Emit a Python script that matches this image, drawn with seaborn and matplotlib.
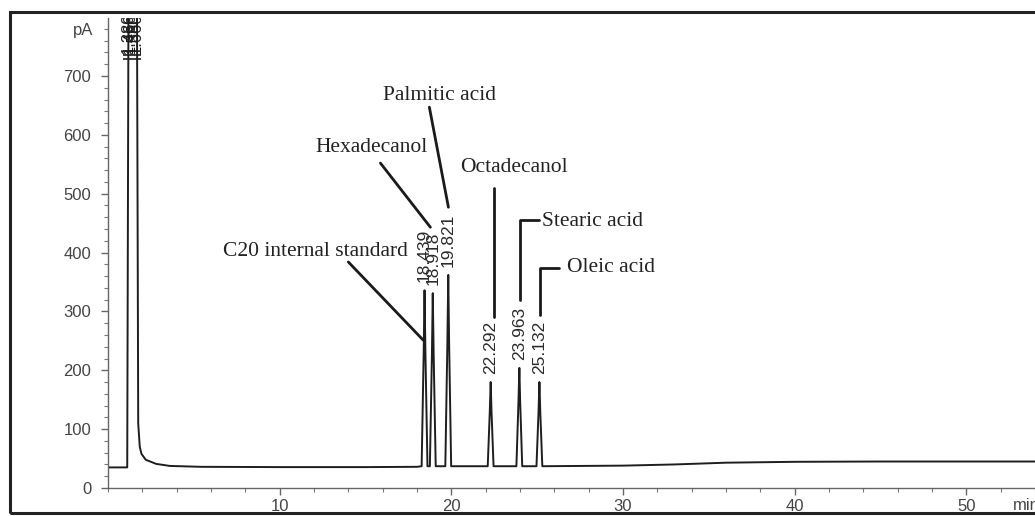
import matplotlib
matplotlib.use("Agg")
import matplotlib.pyplot as plt
import seaborn as sns
import pandas as pd
from matplotlib.patches import Rectangle
from matplotlib.ticker import MultipleLocator

# ---- data ----
trace_time = [0.00, 1.12, 1.20, 1.68, 1.76, 1.85, 1.95, 2.20, 2.80, 3.60, 5.40, 10.0, 15.0, 18.0,
              18.27, 18.39, 18.439, 18.49, 18.61,
              18.75, 18.87, 18.918, 18.97, 19.09,
              19.65, 19.77, 19.821, 19.87, 19.99,
              22.12, 22.24, 22.292, 22.34, 22.46,
              23.79, 23.91, 23.963, 24.01, 24.13,
              24.96, 25.08, 25.132, 25.18, 25.30,
              30.0, 33.0, 36.0, 40.0, 45.0, 54.0]
trace_signal = [35, 35, 900, 900, 110, 70, 58, 48, 41, 37.5, 36, 35.5, 35.5, 36,
                37, 231, 336, 231, 37,
                37, 228, 331, 228, 37,
                37, 248, 362, 248, 37,
                37, 130, 180, 130, 37,
                37, 146, 204, 146, 37,
                37, 130, 180, 130, 37,
                38, 40, 43, 44.5, 45, 45]

peak_rt = [18.439, 18.918, 19.821, 22.292, 23.963, 25.132]
peak_height = [336, 331, 362, 180, 204, 180]
peak_labels = ["18.439", "18.918", "19.821", "22.292", "23.963", "25.132"]

solvent_rt = [1.18, 1.30, 1.45, 1.62]
solvent_labels = ["1.380", "1.466", "1.580", "1.660"]

compound_names = ["C20 internal standard", "Hexadecanol", "Palmitic acid",
                  "Octadecanol", "Stearic acid", "Oleic acid"]

y_ticks = [0, 100, 200, 300, 400, 500, 600, 700]
x_ticks = [10, 20, 30, 40, 50]

df = pd.DataFrame({"time": trace_time, "signal": trace_signal})

# ---- figure ----
sns.set_style("white")
plt.rcParams["font.family"] = ["Liberation Sans", "DejaVu Sans"]

fig = plt.figure(figsize=(10.35, 5.16), dpi=100)
ax = fig.add_axes([108 / 1035, 28 / 516, 927 / 1035, 470 / 516])

sns.lineplot(data=df, x="time", y="signal", ax=ax, color="#1e1e1e", linewidth=1.4)

ax.set_xlim(0, 54.0)
ax.set_ylim(0, 798.5)
ax.set_xlabel("")
ax.set_ylabel("")

ax.set_yticks(y_ticks)
ax.set_xticks(x_ticks)
ax.yaxis.set_minor_locator(MultipleLocator(20))
ax.xaxis.set_minor_locator(MultipleLocator(2))
ax.tick_params(axis="both", which="major", direction="out", length=5, width=1,
               color="#666666", labelcolor="#444444", labelsize=12)
ax.tick_params(axis="y", which="major", pad=7, left=True)
ax.tick_params(axis="x", which="major", pad=3, bottom=True)
ax.tick_params(axis="both", which="minor", direction="out", length=3, width=0.8,
               color="#777777", left=True, bottom=True)

for s in ["top", "right"]:
    ax.spines[s].set_visible(False)
for s in ["left", "bottom"]:
    ax.spines[s].set_color("#666666")
    ax.spines[s].set_linewidth(1.0)

# units
ax.text(-0.016, 777, "pA", transform=ax.get_yaxis_transform(), ha="right", va="center",
        fontsize=12, color="#444444")
fig.text(1013 / 1035, 1 - 505 / 516, "min", ha="left", va="center", fontsize=12, color="#444444")

# peak retention time labels
for rt, h, lab in zip(peak_rt, peak_height, peak_labels):
    ax.text(rt, h + 14, lab, rotation=90, ha="center", va="bottom", fontsize=12.5,
            color="#2a2a2a")

# solvent peak labels (overlapping, cut at top)
for rt, lab in zip(solvent_rt, solvent_labels):
    ax.text(rt, 738, lab, rotation=90, ha="center", va="bottom", fontsize=12,
            color="#1e1e1e", clip_on=True)
ax.hlines([728, 736], 0.9, 1.95, color="#1e1e1e", linewidth=1.2)

# compound annotations
serif = ["Liberation Serif", "DejaVu Serif"]
ann_kw = dict(fontsize=15.5, color="#222222", family=serif)
line_kw = dict(color="#1a1a1a", linewidth=2.0)

ax.text(12.09, 401, compound_names[0], ha="center", va="center", **ann_kw)
ax.plot([14.0, 18.37], [384, 251], **line_kw)

ax.text(15.35, 578, compound_names[1], ha="center", va="center", **ann_kw)
ax.plot([15.87, 18.78], [552, 443], **line_kw)

ax.text(19.31, 666, compound_names[2], ha="center", va="center", **ann_kw)
ax.plot([18.72, 19.83], [647, 477], **line_kw)

ax.text(23.67, 545, compound_names[3], ha="center", va="center", **ann_kw)
ax.plot([22.51, 22.51], [510, 290], **line_kw)

ax.text(25.31, 452, compound_names[4], ha="left", va="center", **ann_kw)
ax.plot([25.1, 24.02, 24.02], [455, 455, 319], **line_kw)

ax.text(26.76, 375, compound_names[5], ha="left", va="center", **ann_kw)
ax.plot([26.3, 25.19, 25.19], [374, 374, 294], **line_kw)

# outer frame of the original figure
fig.add_artist(Rectangle((10 / 1035, 3 / 516), 1.2, 501 / 516, transform=fig.transFigure,
                         fill=False, edgecolor="#222222", linewidth=2.2, clip_on=False))

fig.savefig("out.png", dpi=100)
